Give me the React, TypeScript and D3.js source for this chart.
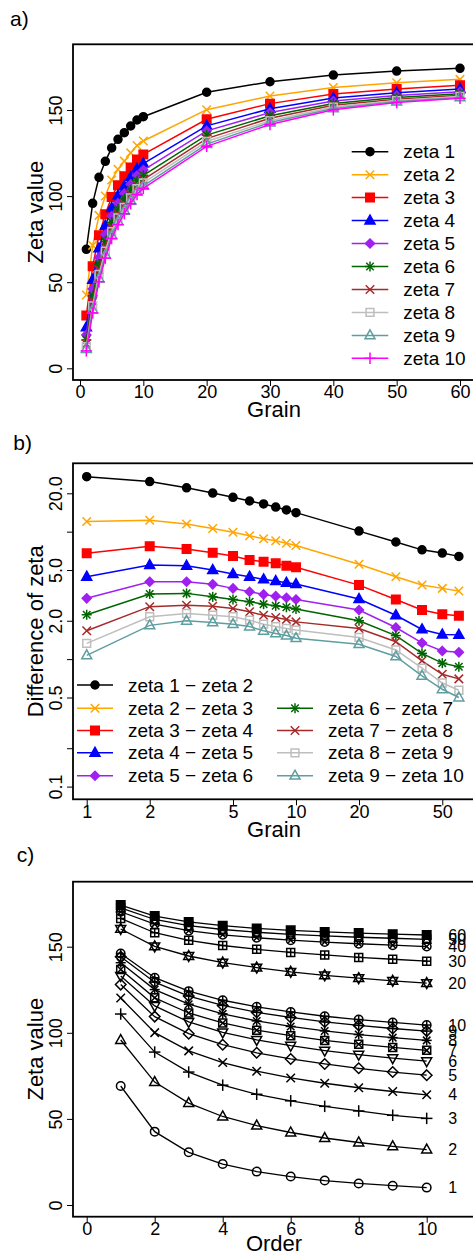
import React, { useEffect, useRef } from 'react';
import * as d3 from 'd3';

const grains = [1, 2, 3, 4, 5, 6, 7, 8, 9, 10, 20, 30, 40, 50, 60];
const orders = [1, 2, 3, 4, 5, 6, 7, 8, 9, 10];

// zeta value of each order, one value per grain
const zeta1 = [69.1, 95.8, 110.9, 120.2, 128.0, 133.0, 136.8, 140.7, 144.2, 146.1, 160.3, 166.4, 170.3, 172.6, 174.2];
const zeta2 = [42.6, 71.4, 88.8, 100.1, 109.4, 115.6, 120.3, 125.1, 129.4, 132.0, 150.2, 158.1, 163.1, 165.8, 167.8];
const zeta3 = [30.6, 59.2, 77.2, 89.5, 99.5, 106.3, 111.5, 116.6, 121.3, 124.2, 144.6, 153.7, 159.3, 162.2, 164.4];
const zeta4 = [23.8, 51.4, 69.6, 82.7, 93.1, 100.3, 105.7, 111.0, 115.9, 118.9, 140.8, 150.7, 156.9, 160.0, 162.2];
const zeta5 = [19.4, 46.1, 64.3, 77.7, 88.4, 95.9, 101.5, 106.9, 111.9, 115.1, 137.9, 148.5, 155.2, 158.4, 160.6];
const zeta6 = [16.5, 42.1, 60.5, 73.8, 84.8, 92.5, 98.3, 103.7, 108.9, 112.1, 135.4, 146.7, 153.8, 157.2, 159.5];
const zeta7 = [14.2, 38.9, 57.3, 70.7, 81.9, 89.7, 95.6, 101.1, 106.3, 109.6, 133.4, 145.2, 152.7, 156.3, 158.6];
const zeta8 = [12.5, 36.3, 54.6, 68.1, 79.4, 87.3, 93.4, 99.0, 104.3, 107.7, 131.7, 143.8, 151.7, 155.5, 157.9];
const zeta9 = [11.2, 34.1, 52.1, 65.9, 77.2, 85.3, 91.5, 97.2, 102.5, 106.0, 130.2, 142.7, 150.9, 154.9, 157.3];
const zeta10 = [10.1, 32.2, 50.3, 64.0, 75.4, 83.5, 89.8, 95.6, 101.0, 104.5, 128.9, 141.6, 150.1, 154.3, 156.8];
const zetaRows = [zeta1, zeta2, zeta3, zeta4, zeta5, zeta6, zeta7, zeta8, zeta9, zeta10];

// differences between successive orders (panel b)
const diff12 = [27, 24.7, 22.1, 20.1, 18.6, 17.4, 16.5, 15.6, 14.8, 14.1, 10.1, 8.3, 7.2, 6.8, 6.4];
const diff23 = [12.0, 12.3, 11.5, 10.6, 9.9, 9.3, 8.8, 8.5, 8.1, 7.8, 5.55, 4.43, 3.81, 3.59, 3.42];
const diff34 = [6.76, 7.7, 7.3, 6.84, 6.44, 5.99, 5.81, 5.64, 5.41, 5.25, 3.81, 2.94, 2.43, 2.25, 2.19];
const diff45 = [4.43, 5.47, 5.4, 5.0, 4.65, 4.43, 4.22, 4.1, 3.97, 3.88, 2.96, 2.21, 1.71, 1.56, 1.55];
const diff56 = [3.0, 4.05, 4.05, 3.86, 3.59, 3.38, 3.22, 3.12, 3.03, 2.94, 2.43, 1.77, 1.34, 1.16, 1.13];
const diff67 = [2.23, 3.24, 3.28, 3.08, 2.94, 2.82, 2.7, 2.62, 2.55, 2.47, 2.0, 1.53, 1.11, 0.93, 0.87];
const diff78 = [1.67, 2.58, 2.65, 2.6, 2.5, 2.35, 2.21, 2.12, 2.05, 1.96, 1.74, 1.37, 0.97, 0.76, 0.7];
const diff89 = [1.33, 2.15, 2.28, 2.21, 2.15, 2.02, 1.88, 1.8, 1.74, 1.69, 1.48, 1.18, 0.85, 0.65, 0.57];
const diff910 = [1.07, 1.84, 2.0, 1.94, 1.88, 1.8, 1.67, 1.59, 1.53, 1.46, 1.31, 1.05, 0.74, 0.58, 0.5];
const diffRows = [diff12, diff23, diff34, diff45, diff56, diff67, diff78, diff89, diff910];

const zetaColors = ['#000000', '#FFA500', '#FF0000', '#0000FF', '#A020F0', '#006400', '#A52A2A', '#BEBEBE', '#5F9EA0', '#FF00FF'];
const zetaShapes = ['dotF', 'cross', 'sqF', 'triF', 'diaF', 'ast', 'cross', 'sq', 'tri', 'plus'];
const grainShapes = ['circ', 'tri', 'plus', 'cross', 'dia', 'triD', 'sqX', 'ast', 'diaPlus', 'circPlus', 'star', 'sqPlus', 'circX', 'sqTri', 'sqF'];

const aYTicks = [0, 50, 100, 150];
const aXTicks = [0, 10, 20, 30, 40, 50, 60];
const bXTicks = [1, 2, 5, 10, 20, 50];
const bYTicks = [0.1, 0.2, 0.5, 1, 2, 5, 10, 20];
const bYLabels = ['0.1', '', '0.5', '', '2.0', '5.0', '', '20.0'];
const cXTicks = [0, 2, 4, 6, 8, 10];

const FONT = '"Liberation Sans", Arial, Helvetica, sans-serif';

function drawMarker(g: any, shape: string, x: number, y: number, color: string, s = 5) {
  const m = g.append('g')
    .attr('transform', `translate(${x},${y})`)
    .attr('stroke', color)
    .attr('stroke-width', 1.5)
    .attr('fill', 'none');
  const line = (x1: number, y1: number, x2: number, y2: number) =>
    m.append('line').attr('x1', x1).attr('y1', y1).attr('x2', x2).attr('y2', y2);
  const poly = (pts: number[][], filled = false) =>
    m.append('path')
      .attr('d', 'M' + pts.map(p => p.join(',')).join('L') + 'Z')
      .attr('fill', filled ? color : 'none');
  const circle = (r: number, filled = false) => m.append('circle').attr('r', r).attr('fill', filled ? color : 'none');
  const cross = (k: number) => { line(-k, -k, k, k); line(-k, k, k, -k); };
  const plus = (k: number) => { line(-k, 0, k, 0); line(0, -k, 0, k); };
  const up = [[0, -s * 1.1], [s * 1.0, s * 0.68], [-s * 1.0, s * 0.68]];
  const down = [[0, s * 1.1], [s * 1.0, -s * 0.68], [-s * 1.0, -s * 0.68]];
  const sq = (k: number) => [[-k, -k], [k, -k], [k, k], [-k, k]];
  const dia = (k: number) => [[0, -k], [k, 0], [0, k], [-k, 0]];

  switch (shape) {
    case 'dotF': circle(s * 0.8, true); break;
    case 'circ': circle(s * 0.85); break;
    case 'cross': cross(s * 0.85); break;
    case 'plus': plus(s * 1.15); break;
    case 'sqF': poly(sq(s * 0.85), true); break;
    case 'sq': poly(sq(s * 0.78)); break;
    case 'triF': poly(up, true); break;
    case 'tri': poly(up); break;
    case 'triD': poly(down); break;
    case 'diaF': poly(dia(s * 0.9), true); break;
    case 'dia': poly(dia(s * 1.05)); break;
    case 'ast': plus(s * 1.0); cross(s * 0.75); break;
    case 'sqX': poly(sq(s * 0.8)); cross(s * 0.8); break;
    case 'diaPlus': poly(dia(s * 1.05)); plus(s * 1.05); break;
    case 'circPlus': circle(s * 0.85); plus(s * 0.85); break;
    case 'star': poly(up); poly(down); break;
    case 'sqPlus': poly(sq(s * 0.8)); plus(s * 0.8); break;
    case 'circX': circle(s * 0.85); cross(s * 0.6); break;
    case 'sqTri': poly(sq(s * 0.8)); poly([[0, -s * 0.8], [s * 0.8, s * 0.8], [-s * 0.8, s * 0.8]]); break;
    default: circle(s * 0.8, true);
  }
}

function drawBox(svg: any, top: number, bottom: number) {
  svg.append('rect')
    .attr('x', 73).attr('y', top)
    .attr('width', 410).attr('height', bottom - top)
    .attr('fill', 'none').attr('stroke', '#000').attr('stroke-width', 1.8);
}

function styleAxis(axisG: any) {
  axisG.select('.domain').remove();
  axisG.selectAll('line').attr('stroke', '#000').attr('stroke-width', 1);
  axisG.selectAll('text').attr('font-family', FONT).attr('font-size', 18).attr('fill', '#000');
}

function yAxis(svg: any, scale: any, ticks: number[], labels: string[]) {
  const ax = svg.append('g').attr('transform', 'translate(73,0)')
    .call(d3.axisLeft(scale).tickValues(ticks).tickSize(6).tickFormat((d: any, i: number) => labels[i]));
  styleAxis(ax);
  ax.selectAll('text')
    .attr('transform', 'rotate(-90)')
    .attr('x', 0).attr('y', -11.5).attr('dy', 0)
    .attr('text-anchor', 'middle');
}

function xAxis(svg: any, scale: any, ticks: number[], bottom: number) {
  const ax = svg.append('g').attr('transform', `translate(0,${bottom})`)
    .call(d3.axisBottom(scale).tickValues(ticks).tickSize(6).tickFormat((d: any) => String(d)));
  styleAxis(ax);
  ax.selectAll('text').attr('y', 18.3).attr('dy', 0);
}

function text(svg: any, x: number, y: number, str: string, size: number, anchor = 'start', rotate = false) {
  const t = svg.append('text')
    .attr('font-family', FONT).attr('font-size', size).attr('fill', '#000')
    .attr('text-anchor', anchor).text(str);
  if (rotate) t.attr('transform', `translate(${x},${y}) rotate(-90)`);
  else t.attr('x', x).attr('y', y);
  return t;
}

const App = () => {
  const ref = useRef<SVGSVGElement>(null);

  useEffect(() => {
    document.body.style.margin = '0';
    const svg = d3.select(ref.current);
    svg.selectAll('*').remove();

    // ---------- a) zeta value vs grain ----------
    const aTop = 44.3, aBottom = 380;
    const xa = d3.scaleLinear().domain([0, 60]).range([80, 460]);
    const ya = d3.scaleLinear().domain([0, 150]).range([368.3, 110]);
    text(svg, 10, 26, 'a)', 21);
    zetaRows.forEach((row, k) => {
      const line = d3.line<number>().x((d, i) => xa(grains[i])).y(d => ya(d));
      svg.append('path').attr('d', line(row)).attr('fill', 'none')
        .attr('stroke', zetaColors[k]).attr('stroke-width', 1.5);
      row.forEach((v, i) => drawMarker(svg, zetaShapes[k], xa(grains[i]), ya(v), zetaColors[k]));
    });
    drawBox(svg, aTop, aBottom);
    yAxis(svg, ya, aYTicks, aYTicks.map(String));
    xAxis(svg, xa, aXTicks, aBottom);
    text(svg, 274, 416.7, 'Grain', 22, 'middle');
    text(svg, 43, (aTop + aBottom) / 2, 'Zeta value', 22, 'middle', true);
    zetaRows.forEach((row, k) => {
      const ly = 151.7 + k * 22.96;
      svg.append('line').attr('x1', 351.7).attr('x2', 388.3).attr('y1', ly).attr('y2', ly)
        .attr('stroke', zetaColors[k]).attr('stroke-width', 1.5);
      drawMarker(svg, zetaShapes[k], 370, ly, zetaColors[k]);
      text(svg, 403.3, ly, `zeta ${k + 1}`, 19).attr('dy', '0.35em');
    });

    // ---------- b) difference of zeta, log-log ----------
    const bTop = 463.3, bBottom = 799.3;
    const xb = d3.scaleLog().domain([1, 10]).range([86.7, 296]);
    const yb = d3.scaleLog().domain([0.1, 20]).range([786.6, 493.3]);
    text(svg, 13.3, 450, 'b)', 21);
    diffRows.forEach((row, k) => {
      const line = d3.line<number>().x((d, i) => xb(grains[i])).y(d => yb(d));
      svg.append('path').attr('d', line(row)).attr('fill', 'none')
        .attr('stroke', zetaColors[k]).attr('stroke-width', 1.5);
      row.forEach((v, i) => drawMarker(svg, zetaShapes[k], xb(grains[i]), yb(v), zetaColors[k]));
    });
    drawBox(svg, bTop, bBottom);
    yAxis(svg, yb, bYTicks, bYLabels);
    xAxis(svg, xb, bXTicks, bBottom);
    text(svg, 274, 836.5, 'Grain', 22, 'middle');
    text(svg, 43, (bTop + bBottom) / 2, 'Difference of zeta', 22, 'middle', true);
    const rowsY = [685, 708.3, 730.5, 752.8, 775.7];
    diffRows.forEach((row, k) => {
      const col = k < 5 ? 0 : 1;
      const ly = col === 0 ? rowsY[k] : rowsY[k - 4];
      const lx = col === 0 ? 77 : 277;
      svg.append('line').attr('x1', lx).attr('x2', lx + 36).attr('y1', ly).attr('y2', ly)
        .attr('stroke', zetaColors[k]).attr('stroke-width', 1.5);
      drawMarker(svg, zetaShapes[k], lx + 18, ly, zetaColors[k]);
      text(svg, lx + 51, ly, `zeta ${k + 1} \u2212 zeta ${k + 2}`, 19).attr('dy', '0.35em');
    });

    // ---------- c) zeta value vs order, one line per grain ----------
    const cTop = 881.7, cBottom = 1216.7;
    const xc = d3.scaleLinear().domain([0, 10]).range([86.7, 426.7]);
    const yc = d3.scaleLinear().domain([0, 150]).range([1205, 946.7]);
    text(svg, 16.7, 862, 'c)', 21);
    grains.forEach((gr, gi) => {
      const vals = zetaRows.map(row => row[gi]);
      const line = d3.line<number>().x((d, i) => xc(orders[i])).y(d => yc(d));
      svg.append('path').attr('d', line(vals)).attr('fill', 'none')
        .attr('stroke', '#000').attr('stroke-width', 1.3);
      vals.forEach((v, i) => drawMarker(svg, grainShapes[gi], xc(orders[i]), yc(v), '#000'));
      text(svg, xc(10) + 21.6, yc(vals[vals.length - 1]), String(gr), 16).attr('dy', '0.35em');
    });
    drawBox(svg, cTop, cBottom);
    yAxis(svg, yc, aYTicks, aYTicks.map(String));
    xAxis(svg, xc, cXTicks, cBottom);
    text(svg, 274, 1250.5, 'Order', 22, 'middle');
    text(svg, 43, (cTop + cBottom) / 2, 'Zeta value', 22, 'middle', true);
  }, []);

  return <svg ref={ref} width={473} height={1254} style={{ display: 'block', background: '#fff' }} />;
};

export default App;
